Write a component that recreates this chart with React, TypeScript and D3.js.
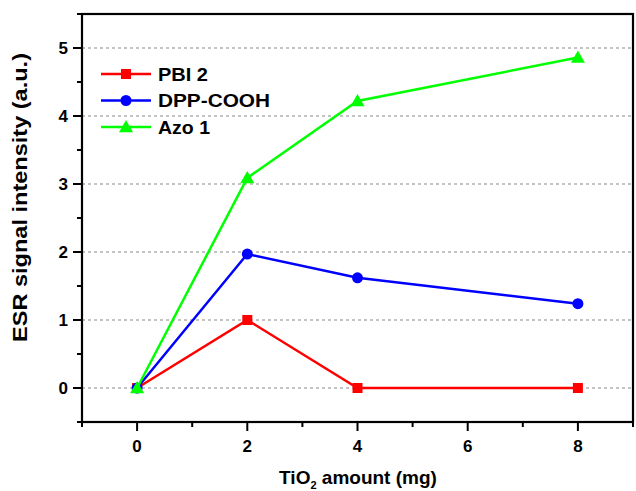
import React from "react";
import * as d3 from "d3";

const xValues = [0, 2, 4, 8];
const seriesNames = ["PBI 2", "DPP-COOH", "Azo 1"];
const pbi2 = [0, 1.0, 0, 0];
const dppCooh = [0, 1.97, 1.62, 1.24];
const azo1 = [0, 3.09, 4.22, 4.86];
const xTicks = [0, 2, 4, 6, 8];
const xMinorTicks = [-1, 1, 3, 5, 7, 9];
const yTicks = [0, 1, 2, 3, 4, 5];
const yMinorTicks = [-0.5, 0.5, 1.5, 2.5, 3.5, 4.5, 5.5];

const W = 636, H = 491;
const L = 82, R = 633, T = 14, B = 422;
const font = "'Liberation Sans', Arial, sans-serif";
const legendWidths = [50, 112, 52];

export default function App() {
  const x = d3.scaleLinear().domain([-1, 9]).range([L, R]);
  const y = d3.scaleLinear().domain([-0.5, 5.5]).range([B, T]);
  const line = d3.line<number>().x((_, i) => x(xValues[i])).y((d) => y(d));

  const series = [
    { name: seriesNames[0], values: pbi2, color: "#ff0000", marker: "square" },
    { name: seriesNames[1], values: dppCooh, color: "#0000ff", marker: "circle" },
    { name: seriesNames[2], values: azo1, color: "#00ff00", marker: "triangle" },
  ];

  const marker = (type: string, cx: number, cy: number, color: string, key: string) => {
    if (type === "square") return <rect key={key} x={cx - 5} y={cy - 5} width={10} height={10} fill={color} />;
    if (type === "circle") return <circle key={key} cx={cx} cy={cy} r={5.5} fill={color} />;
    const s = 7;
    return <path key={key} d={`M${cx},${cy - s}L${cx + s},${cy + s * 0.75}L${cx - s},${cy + s * 0.75}Z`} fill={color} />;
  };

  return (
    <div style={{ position: "absolute", left: 0, top: 0 }}>
      <svg width={W} height={H} style={{ display: "block", background: "#fff" }}>
        {yTicks.map((t) => (
          <line key={"g" + t} x1={L} x2={R} y1={y(t)} y2={y(t)} stroke="#b0b0b0" strokeWidth={1.5} strokeDasharray="3,3" />
        ))}
        {series.map((s) => (
          <g key={s.name}>
            <path d={line(s.values) || ""} fill="none" stroke={s.color} strokeWidth={2.5} />
            {s.values.map((v, i) => marker(s.marker, x(xValues[i]), y(v), s.color, s.name + i))}
          </g>
        ))}
        <rect x={L} y={T} width={R - L} height={B - T} fill="none" stroke="#000" strokeWidth={2.2} />
        {yTicks.map((t) => (
          <g key={"yt" + t}>
            <line x1={L - 9} x2={L} y1={y(t)} y2={y(t)} stroke="#000" strokeWidth={2} />
            <text x={68} y={y(t)} dy="0.36em" textAnchor="end" fontFamily={font} fontWeight="bold" fontSize={17}>{t}</text>
          </g>
        ))}
        {yMinorTicks.map((t) => (
          <line key={"ym" + t} x1={L - 5} x2={L} y1={y(t)} y2={y(t)} stroke="#000" strokeWidth={2} />
        ))}
        {xTicks.map((t) => (
          <g key={"xt" + t}>
            <line x1={x(t)} x2={x(t)} y1={B} y2={B + 9} stroke="#000" strokeWidth={2} />
            <text x={x(t)} y={452} textAnchor="middle" fontFamily={font} fontWeight="bold" fontSize={17}>{t}</text>
          </g>
        ))}
        {xMinorTicks.map((t) => (
          <line key={"xm" + t} x1={x(t)} x2={x(t)} y1={B} y2={B + 5} stroke="#000" strokeWidth={2} />
        ))}
        <text x={358} y={484} textAnchor="middle" fontFamily={font} fontWeight="bold" fontSize={19}>
          TiO<tspan fontSize={11} dy={5}>2</tspan><tspan dy={-5}> amount (mg)</tspan>
        </text>
        <text transform={`translate(27,197.5) rotate(-90)`} textAnchor="middle" fontFamily={font} fontWeight="bold" fontSize={20}
          textLength={289} lengthAdjust="spacingAndGlyphs">
          ESR signal intensity (a.u.)
        </text>
        {series.map((s, i) => {
          const ly = 74 + i * 26.5;
          return (
            <g key={"lg" + s.name}>
              <line x1={101} x2={151} y1={ly} y2={ly} stroke={s.color} strokeWidth={2.5} />
              {marker(s.marker, 126, ly, s.color, "lm" + i)}
              <text x={158} y={ly} dy="0.36em" fontFamily={font} fontWeight="bold" fontSize={19}
                textLength={legendWidths[i]} lengthAdjust="spacingAndGlyphs">{s.name}</text>
            </g>
          );
        })}
      </svg>
    </div>
  );
}
